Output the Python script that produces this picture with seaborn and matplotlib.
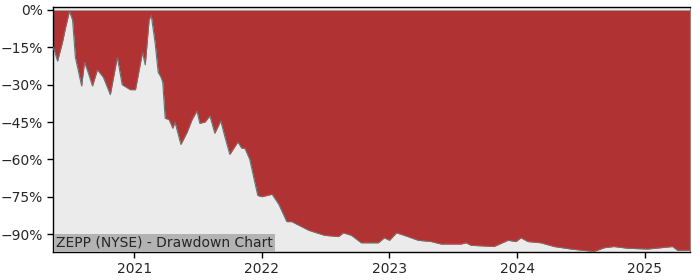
import matplotlib
matplotlib.use("Agg")
import matplotlib.pyplot as plt
from matplotlib.ticker import FixedLocator, FuncFormatter
import seaborn as sns
import pandas as pd

dates = [
    "2020-05-14", "2020-05-26", "2020-06-09", "2020-06-18", "2020-06-29", "2020-07-08",
    "2020-07-16", "2020-08-03", "2020-08-11", "2020-08-19", "2020-09-03", "2020-09-17",
    "2020-10-04", "2020-10-24", "2020-11-13", "2020-11-27", "2020-12-20", "2021-01-04",
    "2021-01-24", "2021-02-01", "2021-02-12", "2021-02-18", "2021-03-01", "2021-03-10",
    "2021-03-18", "2021-03-23", "2021-03-30", "2021-04-10", "2021-04-21", "2021-04-27",
    "2021-05-14", "2021-06-01", "2021-06-15", "2021-06-29", "2021-07-07", "2021-07-22",
    "2021-08-05", "2021-08-19", "2021-09-05", "2021-09-17", "2021-10-01", "2021-10-24",
    "2021-11-04", "2021-11-13", "2021-11-27", "2021-12-12", "2021-12-20", "2022-01-01",
    "2022-01-30", "2022-02-18", "2022-03-13", "2022-03-27", "2022-05-15", "2022-06-29",
    "2022-08-08", "2022-08-22", "2022-09-14", "2022-10-12", "2022-11-10", "2022-11-30",
    "2022-12-17", "2023-01-01", "2023-01-21", "2023-02-12", "2023-03-24", "2023-04-30",
    "2023-05-29", "2023-07-25", "2023-08-08", "2023-08-22", "2023-10-27", "2023-12-06",
    "2023-12-29", "2024-01-12", "2024-02-01", "2024-03-09", "2024-04-16", "2024-06-03",
    "2024-08-08", "2024-09-06", "2024-10-04", "2024-11-13", "2025-01-09", "2025-03-21",
    "2025-04-04", "2025-05-12",
]
drawdown = [
    -15, -20.5, -13, -7, -0.5, -4,
    -19, -30.5, -21, -24, -30.5, -24,
    -27, -34, -19, -30, -32, -32,
    -17, -22, -4, -2, -13, -25,
    -27, -29, -43.5, -44, -47.5, -45,
    -54, -49, -44, -40.5, -45.5, -45,
    -42.5, -49.5, -44.5, -51, -58, -53,
    -55.5, -55.5, -60, -69.5, -74.5, -75,
    -74, -78, -85, -85, -88.5, -90.5,
    -91, -89.5, -90.5, -93.5, -93.5, -93.5,
    -91.5, -92.5, -89.5, -90.5, -92.5, -93,
    -94, -94, -93.5, -94.5, -95, -92.5,
    -93, -91.5, -93, -93.5, -95, -96,
    -97, -95.5, -95, -95.7, -96, -95,
    -96.5, -96.5,
]
ytick_values = [0, -15, -30, -45, -60, -75, -90]
xtick_years = ["2021", "2022", "2023", "2024", "2025"]
label_text = "ZEPP (NYSE) - Drawdown Chart"

df = pd.DataFrame({"date": pd.to_datetime(dates), "dd": drawdown})

sns.set_style("white")
fig = plt.figure(figsize=(7, 2.8), dpi=100)
ax = fig.add_axes([53 / 700, 28 / 280, 637 / 700, 245 / 280])
ax.set_facecolor("#EBEBEB")

ax.fill_between(df["date"], 0, df["dd"], color="#B03232", linewidth=0, zorder=2)
sns.lineplot(data=df, x="date", y="dd", ax=ax, color="#707070", linewidth=0.8, zorder=3)

ax.set_xlim(pd.Timestamp("2020-05-13"), pd.Timestamp("2025-05-10"))
ax.set_ylim(-97.2, 1.2)
ax.set_xlabel("")
ax.set_ylabel("")

ax.yaxis.set_major_locator(FixedLocator(ytick_values))
ax.yaxis.set_major_formatter(FuncFormatter(lambda v, p: f"{v:.0f}%".replace("-", "\u2212")))
ax.set_xticks([pd.Timestamp(y + "-01-01") for y in xtick_years])
ax.set_xticklabels(xtick_years)
ax.tick_params(axis="both", labelsize=10, length=4, width=1, color="black", direction="out",
               left=True, bottom=True)

for side in ["left", "bottom", "top"]:
    ax.spines[side].set_color("black")
    ax.spines[side].set_linewidth(1)
ax.spines["right"].set_color("#888888")

ax.text(0.0047, 0.009, label_text, transform=ax.transAxes, fontsize=10, va="bottom", ha="left",
        zorder=5,
        bbox=dict(facecolor="#B3B3B3", edgecolor="none", pad=1.6))

fig.savefig("out.png", dpi=100)
